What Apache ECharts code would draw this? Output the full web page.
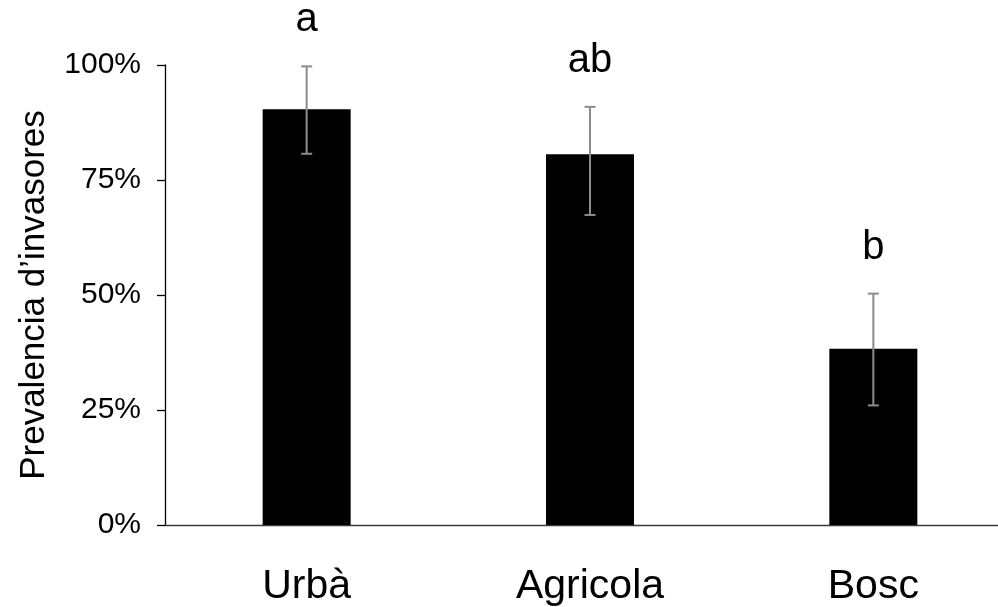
<!DOCTYPE html>
<html>
<head>
<meta charset="utf-8">
<script src="https://cdn.jsdelivr.net/npm/echarts@6/dist/echarts.min.js"></script>
<style>
html,body{margin:0;padding:0;background:#fff;}
#chart{width:998px;height:607px;}
</style>
</head>
<body>
<div id="chart"></div>
<script>
var categories = ['Urbà', 'Agricola', 'Bosc'];
var prevalence = [90.4, 80.6, 38.3];
var errorLow = [80.7, 67.4, 26.0];
var errorHigh = [99.7, 90.9, 50.3];
var letters = ['a', 'ab', 'b'];
var yTicks = [0, 25, 50, 75, 100];

var FONT = '"Liberation Sans", Arial, sans-serif';
var chart = echarts.init(document.getElementById('chart'));

var errData = categories.map(function (c, i) { return [i, errorLow[i], errorHigh[i]]; });

chart.setOption({
  animation: false,
  backgroundColor: '#fff',
  grid: { left: 165, top: 65, width: 850, height: 460, containLabel: false, outerBoundsMode: 'none' },
  xAxis: {
    type: 'category',
    data: categories,
    axisLine: { show: true, lineStyle: { color: '#3a3a3a', width: 1.3 } },
    axisTick: { show: false },
    axisLabel: { color: '#000', fontFamily: FONT, fontSize: 41, margin: 41 },
    splitLine: { show: false }
  },
  yAxis: {
    type: 'value',
    min: yTicks[0],
    max: yTicks[yTicks.length - 1],
    interval: 25,
    name: 'Prevalencia d\u2019invasores',
    nameLocation: 'middle',
    nameGap: 113,
    nameTextStyle: { color: '#000', fontFamily: FONT, fontSize: 35 },
    axisLine: { show: true, lineStyle: { color: '#000', width: 1.3 } },
    axisTick: { show: true, inside: false, length: 8, lineStyle: { color: '#000', width: 1.3 } },
    axisLabel: { color: '#000', fontFamily: FONT, fontSize: 30, margin: 24, formatter: '{value}%' },
    splitLine: { show: false }
  },
  series: [
    {
      type: 'bar',
      data: prevalence,
      barWidth: 88,
      itemStyle: { color: '#000' }
    },
    {
      type: 'custom',
      data: errData,
      z: 10,
      renderItem: function (params, api) {
        var i = api.value(0);
        var lo = api.coord([i, api.value(1)]);
        var hi = api.coord([i, api.value(2)]);
        var x = lo[0];
        var hw = 5.5;
        var st = { stroke: '#8c8c8c', lineWidth: 2 };
        return {
          type: 'group',
          children: [
            { type: 'line', shape: { x1: x, y1: lo[1], x2: x, y2: hi[1] }, style: st },
            { type: 'line', shape: { x1: x - hw, y1: lo[1], x2: x + hw, y2: lo[1] }, style: st },
            { type: 'line', shape: { x1: x - hw, y1: hi[1], x2: x + hw, y2: hi[1] }, style: st },
            { type: 'text', x: x, y: hi[1] - 46, style: {
                text: letters[params.dataIndex], fill: '#000', font: '40px ' + FONT,
                textAlign: 'center', textVerticalAlign: 'middle' } }
          ]
        };
      }
    }
  ]
});
</script>
</body>
</html>
